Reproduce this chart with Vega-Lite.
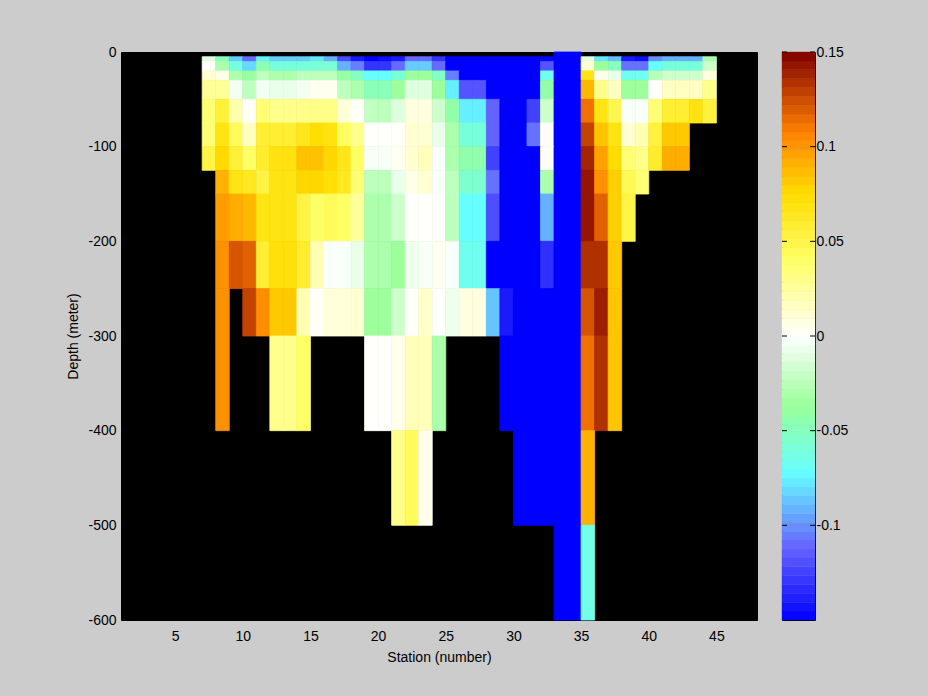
{"$schema":"https://vega.github.io/schema/vega-lite/v6.json","background":"#cccccc","padding":{"left":66,"top":44,"right":79,"bottom":34},"spacing":23,
"config":{"font":"Liberation Sans","axis":{"labelFont":"Liberation Sans","titleFont":"Liberation Sans","labelFontSize":14,"titleFontSize":14,"labelColor":"#000","titleColor":"#000","titleFontWeight":"normal","grid":false}},
"hconcat":[
{"width":636,"height":568,"view":{"fill":"#000000","stroke":"#000000"},
"data":{"values":[
{"st":33,"end":34,"top":0,"bot":-5,"val":-0.15},{"st":34,"end":35,"top":0,"bot":-5,"val":-0.15},
{"st":7,"end":8,"top":-5,"bot":-10,"val":-0.012},{"st":8,"end":9,"top":-5,"bot":-10,"val":-0.05},{"st":9,"end":10,"top":-5,"bot":-10,"val":-0.085},{"st":10,"end":11,"top":-5,"bot":-10,"val":-0.11},{"st":11,"end":12,"top":-5,"bot":-10,"val":-0.075},{"st":12,"end":13,"top":-5,"bot":-10,"val":-0.085},{"st":13,"end":14,"top":-5,"bot":-10,"val":-0.085},{"st":14,"end":15,"top":-5,"bot":-10,"val":-0.085},{"st":15,"end":16,"top":-5,"bot":-10,"val":-0.078},{"st":16,"end":17,"top":-5,"bot":-10,"val":-0.092},{"st":17,"end":18,"top":-5,"bot":-10,"val":-0.122},{"st":18,"end":19,"top":-5,"bot":-10,"val":-0.14},{"st":19,"end":20,"top":-5,"bot":-10,"val":-0.15},{"st":20,"end":21,"top":-5,"bot":-10,"val":-0.145},{"st":21,"end":22,"top":-5,"bot":-10,"val":-0.14},{"st":22,"end":23,"top":-5,"bot":-10,"val":-0.11},{"st":23,"end":24,"top":-5,"bot":-10,"val":-0.11},{"st":24,"end":25,"top":-5,"bot":-10,"val":-0.13},{"st":25,"end":26,"top":-5,"bot":-10,"val":-0.15},{"st":26,"end":27,"top":-5,"bot":-10,"val":-0.15},{"st":27,"end":28,"top":-5,"bot":-10,"val":-0.15},{"st":28,"end":29,"top":-5,"bot":-10,"val":-0.15},{"st":29,"end":30,"top":-5,"bot":-10,"val":-0.15},{"st":30,"end":31,"top":-5,"bot":-10,"val":-0.15},{"st":31,"end":32,"top":-5,"bot":-10,"val":-0.15},{"st":32,"end":33,"top":-5,"bot":-10,"val":-0.148},{"st":33,"end":34,"top":-5,"bot":-10,"val":-0.15},{"st":34,"end":35,"top":-5,"bot":-10,"val":-0.15},{"st":35,"end":36,"top":-5,"bot":-10,"val":-0.01},{"st":36,"end":37,"top":-5,"bot":-10,"val":-0.078},{"st":37,"end":38,"top":-5,"bot":-10,"val":-0.088},{"st":38,"end":39,"top":-5,"bot":-10,"val":-0.14},{"st":39,"end":40,"top":-5,"bot":-10,"val":-0.145},{"st":40,"end":41,"top":-5,"bot":-10,"val":-0.1},{"st":41,"end":42,"top":-5,"bot":-10,"val":-0.092},{"st":42,"end":43,"top":-5,"bot":-10,"val":-0.092},{"st":43,"end":44,"top":-5,"bot":-10,"val":-0.092},{"st":44,"end":45,"top":-5,"bot":-10,"val":-0.03},
{"st":7,"end":8,"top":-10,"bot":-20,"val":0.001},{"st":8,"end":9,"top":-10,"bot":-20,"val":-0.03},{"st":9,"end":10,"top":-10,"bot":-20,"val":-0.062},{"st":10,"end":11,"top":-10,"bot":-20,"val":-0.082},{"st":11,"end":12,"top":-10,"bot":-20,"val":-0.045},{"st":12,"end":13,"top":-10,"bot":-20,"val":-0.06},{"st":13,"end":14,"top":-10,"bot":-20,"val":-0.06},{"st":14,"end":15,"top":-10,"bot":-20,"val":-0.06},{"st":15,"end":16,"top":-10,"bot":-20,"val":-0.058},{"st":16,"end":17,"top":-10,"bot":-20,"val":-0.058},{"st":17,"end":18,"top":-10,"bot":-20,"val":-0.092},{"st":18,"end":19,"top":-10,"bot":-20,"val":-0.105},{"st":19,"end":20,"top":-10,"bot":-20,"val":-0.13},{"st":20,"end":21,"top":-10,"bot":-20,"val":-0.13},{"st":21,"end":22,"top":-10,"bot":-20,"val":-0.11},{"st":22,"end":23,"top":-10,"bot":-20,"val":-0.085},{"st":23,"end":24,"top":-10,"bot":-20,"val":-0.085},{"st":24,"end":25,"top":-10,"bot":-20,"val":-0.11},{"st":25,"end":26,"top":-10,"bot":-20,"val":-0.15},{"st":26,"end":27,"top":-10,"bot":-20,"val":-0.15},{"st":27,"end":28,"top":-10,"bot":-20,"val":-0.15},{"st":28,"end":29,"top":-10,"bot":-20,"val":-0.15},{"st":29,"end":30,"top":-10,"bot":-20,"val":-0.15},{"st":30,"end":31,"top":-10,"bot":-20,"val":-0.15},{"st":31,"end":32,"top":-10,"bot":-20,"val":-0.15},{"st":32,"end":33,"top":-10,"bot":-20,"val":-0.118},{"st":33,"end":34,"top":-10,"bot":-20,"val":-0.15},{"st":34,"end":35,"top":-10,"bot":-20,"val":-0.15},{"st":35,"end":36,"top":-10,"bot":-20,"val":0.012},{"st":36,"end":37,"top":-10,"bot":-20,"val":-0.036},{"st":37,"end":38,"top":-10,"bot":-20,"val":-0.05},{"st":38,"end":39,"top":-10,"bot":-20,"val":-0.108},{"st":39,"end":40,"top":-10,"bot":-20,"val":-0.108},{"st":40,"end":41,"top":-10,"bot":-20,"val":-0.072},{"st":41,"end":42,"top":-10,"bot":-20,"val":-0.06},{"st":42,"end":43,"top":-10,"bot":-20,"val":-0.06},{"st":43,"end":44,"top":-10,"bot":-20,"val":-0.06},{"st":44,"end":45,"top":-10,"bot":-20,"val":-0.018},
{"st":7,"end":8,"top":-20,"bot":-30,"val":0.012},{"st":8,"end":9,"top":-20,"bot":-30,"val":0.006},{"st":9,"end":10,"top":-20,"bot":-30,"val":-0.03},{"st":10,"end":11,"top":-20,"bot":-30,"val":-0.04},{"st":11,"end":12,"top":-20,"bot":-30,"val":-0.024},{"st":12,"end":13,"top":-20,"bot":-30,"val":-0.03},{"st":13,"end":14,"top":-20,"bot":-30,"val":-0.03},{"st":14,"end":15,"top":-20,"bot":-30,"val":-0.024},{"st":15,"end":16,"top":-20,"bot":-30,"val":-0.024},{"st":16,"end":17,"top":-20,"bot":-30,"val":-0.024},{"st":17,"end":18,"top":-20,"bot":-30,"val":-0.04},{"st":18,"end":19,"top":-20,"bot":-30,"val":-0.052},{"st":19,"end":20,"top":-20,"bot":-30,"val":-0.072},{"st":20,"end":21,"top":-20,"bot":-30,"val":-0.072},{"st":21,"end":22,"top":-20,"bot":-30,"val":-0.058},{"st":22,"end":23,"top":-20,"bot":-30,"val":-0.036},{"st":23,"end":24,"top":-20,"bot":-30,"val":-0.036},{"st":24,"end":25,"top":-20,"bot":-30,"val":-0.052},{"st":25,"end":26,"top":-20,"bot":-30,"val":-0.105},{"st":26,"end":27,"top":-20,"bot":-30,"val":-0.15},{"st":27,"end":28,"top":-20,"bot":-30,"val":-0.15},{"st":28,"end":29,"top":-20,"bot":-30,"val":-0.15},{"st":29,"end":30,"top":-20,"bot":-30,"val":-0.15},{"st":30,"end":31,"top":-20,"bot":-30,"val":-0.15},{"st":31,"end":32,"top":-20,"bot":-30,"val":-0.15},{"st":32,"end":33,"top":-20,"bot":-30,"val":-0.066},{"st":33,"end":34,"top":-20,"bot":-30,"val":-0.15},{"st":34,"end":35,"top":-20,"bot":-30,"val":-0.15},{"st":35,"end":36,"top":-20,"bot":-30,"val":0.068},{"st":36,"end":37,"top":-20,"bot":-30,"val":0.005},{"st":37,"end":38,"top":-20,"bot":-30,"val":-0.008},{"st":38,"end":39,"top":-20,"bot":-30,"val":-0.066},{"st":39,"end":40,"top":-20,"bot":-30,"val":-0.066},{"st":40,"end":41,"top":-20,"bot":-30,"val":-0.026},{"st":41,"end":42,"top":-20,"bot":-30,"val":-0.018},{"st":42,"end":43,"top":-20,"bot":-30,"val":-0.018},{"st":43,"end":44,"top":-20,"bot":-30,"val":-0.018},{"st":44,"end":45,"top":-20,"bot":-30,"val":0.008},
{"st":7,"end":8,"top":-30,"bot":-50,"val":0.027},{"st":8,"end":9,"top":-30,"bot":-50,"val":0.027},{"st":9,"end":10,"top":-30,"bot":-50,"val":-0.004},{"st":10,"end":11,"top":-30,"bot":-50,"val":-0.024},{"st":11,"end":12,"top":-30,"bot":-50,"val":-0.004},{"st":12,"end":13,"top":-30,"bot":-50,"val":-0.008},{"st":13,"end":14,"top":-30,"bot":-50,"val":-0.008},{"st":14,"end":15,"top":-30,"bot":-50,"val":-0.004},{"st":15,"end":16,"top":-30,"bot":-50,"val":0.004},{"st":16,"end":17,"top":-30,"bot":-50,"val":0.004},{"st":17,"end":18,"top":-30,"bot":-50,"val":-0.024},{"st":18,"end":19,"top":-30,"bot":-50,"val":-0.03},{"st":19,"end":20,"top":-30,"bot":-50,"val":-0.048},{"st":20,"end":21,"top":-30,"bot":-50,"val":-0.048},{"st":21,"end":22,"top":-30,"bot":-50,"val":-0.036},{"st":22,"end":23,"top":-30,"bot":-50,"val":-0.012},{"st":23,"end":24,"top":-30,"bot":-50,"val":-0.012},{"st":24,"end":25,"top":-30,"bot":-50,"val":-0.036},{"st":25,"end":26,"top":-30,"bot":-50,"val":-0.076},{"st":26,"end":27,"top":-30,"bot":-50,"val":-0.118},{"st":27,"end":28,"top":-30,"bot":-50,"val":-0.118},{"st":28,"end":29,"top":-30,"bot":-50,"val":-0.15},{"st":29,"end":30,"top":-30,"bot":-50,"val":-0.15},{"st":30,"end":31,"top":-30,"bot":-50,"val":-0.15},{"st":31,"end":32,"top":-30,"bot":-50,"val":-0.15},{"st":32,"end":33,"top":-30,"bot":-50,"val":-0.042},{"st":33,"end":34,"top":-30,"bot":-50,"val":-0.15},{"st":34,"end":35,"top":-30,"bot":-50,"val":-0.15},{"st":35,"end":36,"top":-30,"bot":-50,"val":0.088},{"st":36,"end":37,"top":-30,"bot":-50,"val":0.03},{"st":37,"end":38,"top":-30,"bot":-50,"val":0.016},{"st":38,"end":39,"top":-30,"bot":-50,"val":-0.036},{"st":39,"end":40,"top":-30,"bot":-50,"val":-0.036},{"st":40,"end":41,"top":-30,"bot":-50,"val":0.001},{"st":41,"end":42,"top":-30,"bot":-50,"val":0.016},{"st":42,"end":43,"top":-30,"bot":-50,"val":0.016},{"st":43,"end":44,"top":-30,"bot":-50,"val":0.016},{"st":44,"end":45,"top":-30,"bot":-50,"val":0.03},
{"st":7,"end":8,"top":-50,"bot":-75,"val":0.036},{"st":8,"end":9,"top":-50,"bot":-75,"val":0.055},{"st":9,"end":10,"top":-50,"bot":-75,"val":0.022},{"st":10,"end":11,"top":-50,"bot":-75,"val":0.002},{"st":11,"end":12,"top":-50,"bot":-75,"val":0.036},{"st":12,"end":13,"top":-50,"bot":-75,"val":0.03},{"st":13,"end":14,"top":-50,"bot":-75,"val":0.03},{"st":14,"end":15,"top":-50,"bot":-75,"val":0.031},{"st":15,"end":16,"top":-50,"bot":-75,"val":0.031},{"st":16,"end":17,"top":-50,"bot":-75,"val":0.031},{"st":17,"end":18,"top":-50,"bot":-75,"val":0.01},{"st":18,"end":19,"top":-50,"bot":-75,"val":0.002},{"st":19,"end":20,"top":-50,"bot":-75,"val":-0.022},{"st":20,"end":21,"top":-50,"bot":-75,"val":-0.024},{"st":21,"end":22,"top":-50,"bot":-75,"val":-0.012},{"st":22,"end":23,"top":-50,"bot":-75,"val":0.008},{"st":23,"end":24,"top":-50,"bot":-75,"val":0.008},{"st":24,"end":25,"top":-50,"bot":-75,"val":-0.018},{"st":25,"end":26,"top":-50,"bot":-75,"val":-0.042},{"st":26,"end":27,"top":-50,"bot":-75,"val":-0.076},{"st":27,"end":28,"top":-50,"bot":-75,"val":-0.076},{"st":28,"end":29,"top":-50,"bot":-75,"val":-0.112},{"st":29,"end":30,"top":-50,"bot":-75,"val":-0.15},{"st":30,"end":31,"top":-50,"bot":-75,"val":-0.15},{"st":31,"end":32,"top":-50,"bot":-75,"val":-0.125},{"st":32,"end":33,"top":-50,"bot":-75,"val":-0.018},{"st":33,"end":34,"top":-50,"bot":-75,"val":-0.15},{"st":34,"end":35,"top":-50,"bot":-75,"val":-0.15},{"st":35,"end":36,"top":-50,"bot":-75,"val":0.113},{"st":36,"end":37,"top":-50,"bot":-75,"val":0.068},{"st":37,"end":38,"top":-50,"bot":-75,"val":0.048},{"st":38,"end":39,"top":-50,"bot":-75,"val":-0.002},{"st":39,"end":40,"top":-50,"bot":-75,"val":-0.002},{"st":40,"end":41,"top":-50,"bot":-75,"val":0.036},{"st":41,"end":42,"top":-50,"bot":-75,"val":0.058},{"st":42,"end":43,"top":-50,"bot":-75,"val":0.058},{"st":43,"end":44,"top":-50,"bot":-75,"val":0.07},{"st":44,"end":45,"top":-50,"bot":-75,"val":0.054},
{"st":7,"end":8,"top":-75,"bot":-100,"val":0.036},{"st":8,"end":9,"top":-75,"bot":-100,"val":0.068},{"st":9,"end":10,"top":-75,"bot":-100,"val":0.044},{"st":10,"end":11,"top":-75,"bot":-100,"val":0.016},{"st":11,"end":12,"top":-75,"bot":-100,"val":0.058},{"st":12,"end":13,"top":-75,"bot":-100,"val":0.058},{"st":13,"end":14,"top":-75,"bot":-100,"val":0.058},{"st":14,"end":15,"top":-75,"bot":-100,"val":0.066},{"st":15,"end":16,"top":-75,"bot":-100,"val":0.074},{"st":16,"end":17,"top":-75,"bot":-100,"val":0.07},{"st":17,"end":18,"top":-75,"bot":-100,"val":0.042},{"st":18,"end":19,"top":-75,"bot":-100,"val":0.03},{"st":19,"end":20,"top":-75,"bot":-100,"val":0.001},{"st":20,"end":21,"top":-75,"bot":-100,"val":0.001},{"st":21,"end":22,"top":-75,"bot":-100,"val":0.001},{"st":22,"end":23,"top":-75,"bot":-100,"val":0.012},{"st":23,"end":24,"top":-75,"bot":-100,"val":0.012},{"st":24,"end":25,"top":-75,"bot":-100,"val":-0.008},{"st":25,"end":26,"top":-75,"bot":-100,"val":-0.03},{"st":26,"end":27,"top":-75,"bot":-100,"val":-0.06},{"st":27,"end":28,"top":-75,"bot":-100,"val":-0.06},{"st":28,"end":29,"top":-75,"bot":-100,"val":-0.112},{"st":29,"end":30,"top":-75,"bot":-100,"val":-0.15},{"st":30,"end":31,"top":-75,"bot":-100,"val":-0.15},{"st":31,"end":32,"top":-75,"bot":-100,"val":-0.108},{"st":32,"end":33,"top":-75,"bot":-100,"val":0.002},{"st":33,"end":34,"top":-75,"bot":-100,"val":-0.15},{"st":34,"end":35,"top":-75,"bot":-100,"val":-0.15},{"st":35,"end":36,"top":-75,"bot":-100,"val":0.128},{"st":36,"end":37,"top":-75,"bot":-100,"val":0.084},{"st":37,"end":38,"top":-75,"bot":-100,"val":0.068},{"st":38,"end":39,"top":-75,"bot":-100,"val":0.012},{"st":39,"end":40,"top":-75,"bot":-100,"val":0.02},{"st":40,"end":41,"top":-75,"bot":-100,"val":0.054},{"st":41,"end":42,"top":-75,"bot":-100,"val":0.082},{"st":42,"end":43,"top":-75,"bot":-100,"val":0.082},
{"st":7,"end":8,"top":-100,"bot":-125,"val":0.05},{"st":8,"end":9,"top":-100,"bot":-125,"val":0.076},{"st":9,"end":10,"top":-100,"bot":-125,"val":0.055},{"st":10,"end":11,"top":-100,"bot":-125,"val":0.04},{"st":11,"end":12,"top":-100,"bot":-125,"val":0.06},{"st":12,"end":13,"top":-100,"bot":-125,"val":0.07},{"st":13,"end":14,"top":-100,"bot":-125,"val":0.07},{"st":14,"end":15,"top":-100,"bot":-125,"val":0.085},{"st":15,"end":16,"top":-100,"bot":-125,"val":0.085},{"st":16,"end":17,"top":-100,"bot":-125,"val":0.077},{"st":17,"end":18,"top":-100,"bot":-125,"val":0.066},{"st":18,"end":19,"top":-100,"bot":-125,"val":0.04},{"st":19,"end":20,"top":-100,"bot":-125,"val":-0.003},{"st":20,"end":21,"top":-100,"bot":-125,"val":-0.003},{"st":21,"end":22,"top":-100,"bot":-125,"val":0.003},{"st":22,"end":23,"top":-100,"bot":-125,"val":0.012},{"st":23,"end":24,"top":-100,"bot":-125,"val":0.018},{"st":24,"end":25,"top":-100,"bot":-125,"val":-0.002},{"st":25,"end":26,"top":-100,"bot":-125,"val":-0.03},{"st":26,"end":27,"top":-100,"bot":-125,"val":-0.044},{"st":27,"end":28,"top":-100,"bot":-125,"val":-0.044},{"st":28,"end":29,"top":-100,"bot":-125,"val":-0.125},{"st":29,"end":30,"top":-100,"bot":-125,"val":-0.15},{"st":30,"end":31,"top":-100,"bot":-125,"val":-0.15},{"st":31,"end":32,"top":-100,"bot":-125,"val":-0.15},{"st":32,"end":33,"top":-100,"bot":-125,"val":0.002},{"st":33,"end":34,"top":-100,"bot":-125,"val":-0.15},{"st":34,"end":35,"top":-100,"bot":-125,"val":-0.15},{"st":35,"end":36,"top":-100,"bot":-125,"val":0.138},{"st":36,"end":37,"top":-100,"bot":-125,"val":0.096},{"st":37,"end":38,"top":-100,"bot":-125,"val":0.075},{"st":38,"end":39,"top":-100,"bot":-125,"val":0.036},{"st":39,"end":40,"top":-100,"bot":-125,"val":0.03},{"st":40,"end":41,"top":-100,"bot":-125,"val":0.06},{"st":41,"end":42,"top":-100,"bot":-125,"val":0.092},{"st":42,"end":43,"top":-100,"bot":-125,"val":0.092},
{"st":8,"end":9,"top":-125,"bot":-150,"val":0.09},{"st":9,"end":10,"top":-125,"bot":-150,"val":0.068},{"st":10,"end":11,"top":-125,"bot":-150,"val":0.064},{"st":11,"end":12,"top":-125,"bot":-150,"val":0.052},{"st":12,"end":13,"top":-125,"bot":-150,"val":0.068},{"st":13,"end":14,"top":-125,"bot":-150,"val":0.068},{"st":14,"end":15,"top":-125,"bot":-150,"val":0.077},{"st":15,"end":16,"top":-125,"bot":-150,"val":0.077},{"st":16,"end":17,"top":-125,"bot":-150,"val":0.073},{"st":17,"end":18,"top":-125,"bot":-150,"val":0.064},{"st":18,"end":19,"top":-125,"bot":-150,"val":0.036},{"st":19,"end":20,"top":-125,"bot":-150,"val":-0.024},{"st":20,"end":21,"top":-125,"bot":-150,"val":-0.024},{"st":21,"end":22,"top":-125,"bot":-150,"val":-0.008},{"st":22,"end":23,"top":-125,"bot":-150,"val":0.006},{"st":23,"end":24,"top":-125,"bot":-150,"val":0.012},{"st":24,"end":25,"top":-125,"bot":-150,"val":-0.002},{"st":25,"end":26,"top":-125,"bot":-150,"val":-0.024},{"st":26,"end":27,"top":-125,"bot":-150,"val":-0.056},{"st":27,"end":28,"top":-125,"bot":-150,"val":-0.056},{"st":28,"end":29,"top":-125,"bot":-150,"val":-0.108},{"st":29,"end":30,"top":-125,"bot":-150,"val":-0.15},{"st":30,"end":31,"top":-125,"bot":-150,"val":-0.15},{"st":31,"end":32,"top":-125,"bot":-150,"val":-0.15},{"st":32,"end":33,"top":-125,"bot":-150,"val":-0.03},{"st":33,"end":34,"top":-125,"bot":-150,"val":-0.15},{"st":34,"end":35,"top":-125,"bot":-150,"val":-0.15},{"st":35,"end":36,"top":-125,"bot":-150,"val":0.143},{"st":36,"end":37,"top":-125,"bot":-150,"val":0.102},{"st":37,"end":38,"top":-125,"bot":-150,"val":0.08},{"st":38,"end":39,"top":-125,"bot":-150,"val":0.046},{"st":39,"end":40,"top":-125,"bot":-150,"val":0.036},
{"st":8,"end":9,"top":-150,"bot":-200,"val":0.098},{"st":9,"end":10,"top":-150,"bot":-200,"val":0.092},{"st":10,"end":11,"top":-150,"bot":-200,"val":0.088},{"st":11,"end":12,"top":-150,"bot":-200,"val":0.068},{"st":12,"end":13,"top":-150,"bot":-200,"val":0.068},{"st":13,"end":14,"top":-150,"bot":-200,"val":0.068},{"st":14,"end":15,"top":-150,"bot":-200,"val":0.052},{"st":15,"end":16,"top":-150,"bot":-200,"val":0.04},{"st":16,"end":17,"top":-150,"bot":-200,"val":0.044},{"st":17,"end":18,"top":-150,"bot":-200,"val":0.04},{"st":18,"end":19,"top":-150,"bot":-200,"val":0.026},{"st":19,"end":20,"top":-150,"bot":-200,"val":-0.03},{"st":20,"end":21,"top":-150,"bot":-200,"val":-0.03},{"st":21,"end":22,"top":-150,"bot":-200,"val":-0.018},{"st":22,"end":23,"top":-150,"bot":-200,"val":0.001},{"st":23,"end":24,"top":-150,"bot":-200,"val":0.001},{"st":24,"end":25,"top":-150,"bot":-200,"val":0.001},{"st":25,"end":26,"top":-150,"bot":-200,"val":-0.024},{"st":26,"end":27,"top":-150,"bot":-200,"val":-0.072},{"st":27,"end":28,"top":-150,"bot":-200,"val":-0.072},{"st":28,"end":29,"top":-150,"bot":-200,"val":-0.12},{"st":29,"end":30,"top":-150,"bot":-200,"val":-0.15},{"st":30,"end":31,"top":-150,"bot":-200,"val":-0.15},{"st":31,"end":32,"top":-150,"bot":-200,"val":-0.15},{"st":32,"end":33,"top":-150,"bot":-200,"val":-0.092},{"st":33,"end":34,"top":-150,"bot":-200,"val":-0.15},{"st":34,"end":35,"top":-150,"bot":-200,"val":-0.15},{"st":35,"end":36,"top":-150,"bot":-200,"val":0.143},{"st":36,"end":37,"top":-150,"bot":-200,"val":0.118},{"st":37,"end":38,"top":-150,"bot":-200,"val":0.08},{"st":38,"end":39,"top":-150,"bot":-200,"val":0.05},
{"st":8,"end":9,"top":-200,"bot":-250,"val":0.102},{"st":9,"end":10,"top":-200,"bot":-250,"val":0.122},{"st":10,"end":11,"top":-200,"bot":-250,"val":0.118},{"st":11,"end":12,"top":-200,"bot":-250,"val":0.058},{"st":12,"end":13,"top":-200,"bot":-250,"val":0.072},{"st":13,"end":14,"top":-200,"bot":-250,"val":0.072},{"st":14,"end":15,"top":-200,"bot":-250,"val":0.06},{"st":15,"end":16,"top":-200,"bot":-250,"val":0.02},{"st":16,"end":17,"top":-200,"bot":-250,"val":-0.002},{"st":17,"end":18,"top":-200,"bot":-250,"val":-0.002},{"st":18,"end":19,"top":-200,"bot":-250,"val":-0.008},{"st":19,"end":20,"top":-200,"bot":-250,"val":-0.03},{"st":20,"end":21,"top":-200,"bot":-250,"val":-0.03},{"st":21,"end":22,"top":-200,"bot":-250,"val":-0.036},{"st":22,"end":23,"top":-200,"bot":-250,"val":-0.006},{"st":23,"end":24,"top":-200,"bot":-250,"val":-0.003},{"st":24,"end":25,"top":-200,"bot":-250,"val":0.003},{"st":25,"end":26,"top":-200,"bot":-250,"val":-0.002},{"st":26,"end":27,"top":-200,"bot":-250,"val":-0.066},{"st":27,"end":28,"top":-200,"bot":-250,"val":-0.066},{"st":28,"end":29,"top":-200,"bot":-250,"val":-0.15},{"st":29,"end":30,"top":-200,"bot":-250,"val":-0.15},{"st":30,"end":31,"top":-200,"bot":-250,"val":-0.15},{"st":31,"end":32,"top":-200,"bot":-250,"val":-0.15},{"st":32,"end":33,"top":-200,"bot":-250,"val":-0.132},{"st":33,"end":34,"top":-200,"bot":-250,"val":-0.15},{"st":34,"end":35,"top":-200,"bot":-250,"val":-0.15},{"st":35,"end":36,"top":-200,"bot":-250,"val":0.134},{"st":36,"end":37,"top":-200,"bot":-250,"val":0.134},{"st":37,"end":38,"top":-200,"bot":-250,"val":0.082},
{"st":8,"end":9,"top":-250,"bot":-300,"val":0.102},{"st":10,"end":11,"top":-250,"bot":-300,"val":0.128},{"st":11,"end":12,"top":-250,"bot":-300,"val":0.103},{"st":12,"end":13,"top":-250,"bot":-300,"val":0.082},{"st":13,"end":14,"top":-250,"bot":-300,"val":0.082},{"st":14,"end":15,"top":-250,"bot":-300,"val":0.02},{"st":15,"end":16,"top":-250,"bot":-300,"val":0.002},{"st":16,"end":17,"top":-250,"bot":-300,"val":0.01},{"st":17,"end":18,"top":-250,"bot":-300,"val":0.01},{"st":18,"end":19,"top":-250,"bot":-300,"val":0.012},{"st":19,"end":20,"top":-250,"bot":-300,"val":-0.036},{"st":20,"end":21,"top":-250,"bot":-300,"val":-0.036},{"st":21,"end":22,"top":-250,"bot":-300,"val":-0.018},{"st":22,"end":23,"top":-250,"bot":-300,"val":0.001},{"st":23,"end":24,"top":-250,"bot":-300,"val":0.014},{"st":24,"end":25,"top":-250,"bot":-300,"val":0.001},{"st":25,"end":26,"top":-250,"bot":-300,"val":-0.006},{"st":26,"end":27,"top":-250,"bot":-300,"val":0.008},{"st":27,"end":28,"top":-250,"bot":-300,"val":0.008},{"st":28,"end":29,"top":-250,"bot":-300,"val":-0.087},{"st":29,"end":30,"top":-250,"bot":-300,"val":-0.14},{"st":30,"end":31,"top":-250,"bot":-300,"val":-0.15},{"st":31,"end":32,"top":-250,"bot":-300,"val":-0.15},{"st":32,"end":33,"top":-250,"bot":-300,"val":-0.15},{"st":33,"end":34,"top":-250,"bot":-300,"val":-0.15},{"st":34,"end":35,"top":-250,"bot":-300,"val":-0.15},{"st":35,"end":36,"top":-250,"bot":-300,"val":0.122},{"st":36,"end":37,"top":-250,"bot":-300,"val":0.14},{"st":37,"end":38,"top":-250,"bot":-300,"val":0.083},
{"st":8,"end":9,"top":-300,"bot":-400,"val":0.102},{"st":12,"end":13,"top":-300,"bot":-400,"val":0.03},{"st":13,"end":14,"top":-300,"bot":-400,"val":0.03},{"st":14,"end":15,"top":-300,"bot":-400,"val":0.04},{"st":19,"end":20,"top":-300,"bot":-400,"val":0.001},{"st":20,"end":21,"top":-300,"bot":-400,"val":0.001},{"st":21,"end":22,"top":-300,"bot":-400,"val":0.005},{"st":22,"end":23,"top":-300,"bot":-400,"val":0.018},{"st":23,"end":24,"top":-300,"bot":-400,"val":0.018},{"st":24,"end":25,"top":-300,"bot":-400,"val":-0.03},{"st":29,"end":30,"top":-300,"bot":-400,"val":-0.15},{"st":30,"end":31,"top":-300,"bot":-400,"val":-0.15},{"st":31,"end":32,"top":-300,"bot":-400,"val":-0.15},{"st":32,"end":33,"top":-300,"bot":-400,"val":-0.15},{"st":33,"end":34,"top":-300,"bot":-400,"val":-0.15},{"st":34,"end":35,"top":-300,"bot":-400,"val":-0.15},{"st":35,"end":36,"top":-300,"bot":-400,"val":0.113},{"st":36,"end":37,"top":-300,"bot":-400,"val":0.134},{"st":37,"end":38,"top":-300,"bot":-400,"val":0.083},
{"st":21,"end":22,"top":-400,"bot":-500,"val":0.03},{"st":22,"end":23,"top":-400,"bot":-500,"val":0.044},{"st":23,"end":24,"top":-400,"bot":-500,"val":0.005},{"st":30,"end":31,"top":-400,"bot":-500,"val":-0.15},{"st":31,"end":32,"top":-400,"bot":-500,"val":-0.15},{"st":32,"end":33,"top":-400,"bot":-500,"val":-0.15},{"st":33,"end":34,"top":-400,"bot":-500,"val":-0.15},{"st":34,"end":35,"top":-400,"bot":-500,"val":-0.15},{"st":35,"end":36,"top":-400,"bot":-500,"val":0.09},
{"st":33,"end":34,"top":-500,"bot":-600,"val":-0.15},{"st":34,"end":35,"top":-500,"bot":-600,"val":-0.15},{"st":35,"end":36,"top":-500,"bot":-600,"val":-0.064}
]},
"mark":{"type":"rect","strokeWidth":0.8},
"encoding":{
"x":{"field":"st","type":"quantitative","title":"Station (number)","scale":{"domain":[1,48],"nice":false,"zero":false},"axis":{"values":[5,10,15,20,25,30,35,40,45],"ticks":false,"domain":false,"labelPadding":9,"titlePadding":7,"labelFlush":false}},
"x2":{"field":"end"},
"y":{"field":"top","type":"quantitative","title":"Depth (meter)","scale":{"domain":[-600,0],"nice":false},"axis":{"values":[0,-100,-200,-300,-400,-500,-600],"labelExpr":"''+datum.value","ticks":false,"domain":false,"labelPadding":5,"titlePadding":7,"labelFlush":false}},
"y2":{"field":"bot"},
"fill":{"field":"val","type":"quantitative","legend":null,"scale":{"domain":[-0.15,-0.111,-0.072,-0.037,0,0.04,0.075,0.108,0.15],"range":["#0000ff","#6666ff","#66ffff","#99ff99","#ffffff","#ffff66","#ffdd00","#ff8000","#800000"],"interpolate":"rgb"}},
"stroke":{"field":"val","type":"quantitative","legend":null,"scale":{"domain":[-0.15,-0.111,-0.072,-0.037,0,0.04,0.075,0.108,0.15],"range":["#0000ff","#6666ff","#66ffff","#99ff99","#ffffff","#ffff66","#ffdd00","#ff8000","#800000"],"interpolate":"rgb"}}
}},
{"width":33,"height":568,"view":{"stroke":"#000000"},
"layer":[
{"data":{"values":[
{"low":-0.15,"high":-0.1453,"level":-0.1477},{"low":-0.1453,"high":-0.1406,"level":-0.143},{"low":-0.1406,"high":-0.1359,"level":-0.1383},{"low":-0.1359,"high":-0.1313,"level":-0.1336},{"low":-0.1313,"high":-0.1266,"level":-0.1289},{"low":-0.1266,"high":-0.1219,"level":-0.1242},{"low":-0.1219,"high":-0.1172,"level":-0.1195},{"low":-0.1172,"high":-0.1125,"level":-0.1148},{"low":-0.1125,"high":-0.1078,"level":-0.1102},{"low":-0.1078,"high":-0.1031,"level":-0.1055},{"low":-0.1031,"high":-0.0984,"level":-0.1008},{"low":-0.0984,"high":-0.0938,"level":-0.0961},{"low":-0.0938,"high":-0.0891,"level":-0.0914},{"low":-0.0891,"high":-0.0844,"level":-0.0867},{"low":-0.0844,"high":-0.0797,"level":-0.082},{"low":-0.0797,"high":-0.075,"level":-0.0773},{"low":-0.075,"high":-0.0703,"level":-0.0727},{"low":-0.0703,"high":-0.0656,"level":-0.068},{"low":-0.0656,"high":-0.0609,"level":-0.0633},{"low":-0.0609,"high":-0.0563,"level":-0.0586},{"low":-0.0563,"high":-0.0516,"level":-0.0539},{"low":-0.0516,"high":-0.0469,"level":-0.0492},{"low":-0.0469,"high":-0.0422,"level":-0.0445},{"low":-0.0422,"high":-0.0375,"level":-0.0398},{"low":-0.0375,"high":-0.0328,"level":-0.0352},{"low":-0.0328,"high":-0.0281,"level":-0.0305},{"low":-0.0281,"high":-0.0234,"level":-0.0258},{"low":-0.0234,"high":-0.0188,"level":-0.0211},{"low":-0.0188,"high":-0.0141,"level":-0.0164},{"low":-0.0141,"high":-0.0094,"level":-0.0117},{"low":-0.0094,"high":-0.0047,"level":-0.007},{"low":-0.0047,"high":0,"level":-0.0023},
{"low":0,"high":0.0047,"level":0.0023},{"low":0.0047,"high":0.0094,"level":0.007},{"low":0.0094,"high":0.0141,"level":0.0117},{"low":0.0141,"high":0.0188,"level":0.0164},{"low":0.0188,"high":0.0234,"level":0.0211},{"low":0.0234,"high":0.0281,"level":0.0258},{"low":0.0281,"high":0.0328,"level":0.0305},{"low":0.0328,"high":0.0375,"level":0.0352},{"low":0.0375,"high":0.0422,"level":0.0398},{"low":0.0422,"high":0.0469,"level":0.0445},{"low":0.0469,"high":0.0516,"level":0.0492},{"low":0.0516,"high":0.0563,"level":0.0539},{"low":0.0563,"high":0.0609,"level":0.0586},{"low":0.0609,"high":0.0656,"level":0.0633},{"low":0.0656,"high":0.0703,"level":0.068},{"low":0.0703,"high":0.075,"level":0.0727},{"low":0.075,"high":0.0797,"level":0.0773},{"low":0.0797,"high":0.0844,"level":0.082},{"low":0.0844,"high":0.0891,"level":0.0867},{"low":0.0891,"high":0.0938,"level":0.0914},{"low":0.0938,"high":0.0984,"level":0.0961},{"low":0.0984,"high":0.1031,"level":0.1008},{"low":0.1031,"high":0.1078,"level":0.1055},{"low":0.1078,"high":0.1125,"level":0.1102},{"low":0.1125,"high":0.1172,"level":0.1148},{"low":0.1172,"high":0.1219,"level":0.1195},{"low":0.1219,"high":0.1266,"level":0.1242},{"low":0.1266,"high":0.1313,"level":0.1289},{"low":0.1313,"high":0.1359,"level":0.1336},{"low":0.1359,"high":0.1406,"level":0.1383},{"low":0.1406,"high":0.1453,"level":0.143},{"low":0.1453,"high":0.15,"level":0.1477}
]},
"mark":{"type":"rect","strokeWidth":0.4},
"encoding":{
"x":{"datum":0,"type":"quantitative","scale":{"domain":[0,1],"nice":false},"axis":null},
"x2":{"datum":1},
"y":{"field":"low","type":"quantitative","title":null,"scale":{"domain":[-0.15,0.15],"nice":false,"zero":false},"axis":{"orient":"right","values":[-0.1,-0.05,0,0.05,0.1,0.15],"labelExpr":"''+datum.value","ticks":false,"domain":false,"labelPadding":1,"labelFlush":false,"labelOverlap":false}},
"y2":{"field":"high"},
"fill":{"field":"level","type":"quantitative","legend":null,"scale":{"domain":[-0.15,-0.111,-0.072,-0.037,0,0.04,0.075,0.108,0.15],"range":["#0000ff","#6666ff","#66ffff","#99ff99","#ffffff","#ffff66","#ffdd00","#ff8000","#800000"],"interpolate":"rgb"}},
"stroke":{"field":"level","type":"quantitative","legend":null,"scale":{"domain":[-0.15,-0.111,-0.072,-0.037,0,0.04,0.075,0.108,0.15],"range":["#0000ff","#6666ff","#66ffff","#99ff99","#ffffff","#ffff66","#ffdd00","#ff8000","#800000"],"interpolate":"rgb"}}
}},
{"data":{"values":[
{"at":-0.1,"from":0,"to":0.15},{"at":-0.05,"from":0,"to":0.15},{"at":0,"from":0,"to":0.15},{"at":0.05,"from":0,"to":0.15},{"at":0.1,"from":0,"to":0.15},{"at":0.15,"from":0,"to":0.15},
{"at":-0.1,"from":0.85,"to":1},{"at":-0.05,"from":0.85,"to":1},{"at":0,"from":0.85,"to":1},{"at":0.05,"from":0.85,"to":1},{"at":0.1,"from":0.85,"to":1},{"at":0.15,"from":0.85,"to":1}
]},
"mark":{"type":"rule","color":"#000000","strokeWidth":1},
"encoding":{
"x":{"field":"from","type":"quantitative"},
"x2":{"field":"to"},
"y":{"field":"at","type":"quantitative"}
}}
]}
]}
